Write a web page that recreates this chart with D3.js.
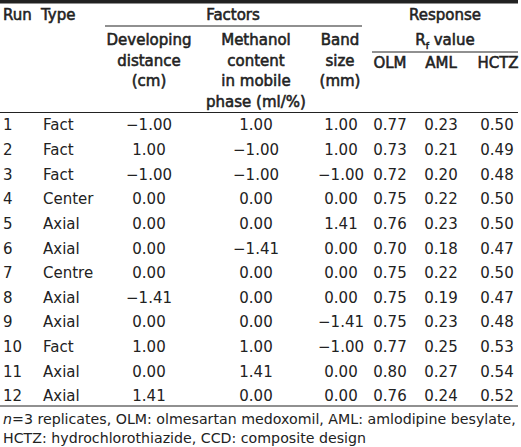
<!DOCTYPE html>
<html>
<head>
<meta charset="utf-8">
<script src="https://cdn.jsdelivr.net/npm/d3@7"></script>
<style>
  html, body { margin: 0; padding: 0; background: #fff; }
  svg { display: block; }
  text { font-family: "DejaVu Sans", Verdana, sans-serif; fill: #222; }
</style>
</head>
<body>
<div id="chart"></div>
<script>
// ---- data ----
const runs = [1, 2, 3, 4, 5, 6, 7, 8, 9, 10, 11, 12];
const types = ["Fact", "Fact", "Fact", "Center", "Axial", "Axial", "Centre", "Axial", "Axial", "Fact", "Axial", "Axial"];
const developingDistance = [-1.00, 1.00, -1.00, 0.00, 0.00, 0.00, 0.00, -1.41, 0.00, 1.00, 0.00, 1.41];
const methanolContent = [1.00, -1.00, -1.00, 0.00, 0.00, -1.41, 0.00, 0.00, 0.00, 1.00, 1.41, 0.00];
const bandSize = [1.00, 1.00, -1.00, 0.00, 1.41, 0.00, 0.00, 0.00, -1.41, -1.00, 0.00, 0.00];
const rfOLM = [0.77, 0.73, 0.72, 0.75, 0.76, 0.70, 0.75, 0.75, 0.75, 0.77, 0.80, 0.76];
const rfAML = [0.23, 0.21, 0.20, 0.22, 0.23, 0.18, 0.22, 0.19, 0.23, 0.25, 0.27, 0.24];
const rfHCTZ = [0.50, 0.49, 0.48, 0.50, 0.50, 0.47, 0.50, 0.47, 0.48, 0.53, 0.54, 0.52];
const footnoteLines = [
  [{t: "n", i: true}, {t: "=3 replicates, OLM: olmesartan medoxomil, AML: amlodipine besylate,"}],
  [{t: "HCTZ: hydrochlorothiazide, CCD: composite design"}]
];

const W = 521, H = 447;
const svg = d3.select("#chart").append("svg").attr("width", W).attr("height", H);

const fmt = d3.format(".2f");
const bodySize = 15, headSize = 15;

// row scale
const y = d3.scalePoint().domain(runs).range([125, 396]);

// columns
const columns = [
  {key: "run", values: runs.map(String), x: 3, anchor: "start"},
  {key: "type", values: types, x: 43, anchor: "start"},
  {key: "dev", values: developingDistance.map(fmt), x: 149, anchor: "middle"},
  {key: "meth", values: methanolContent.map(fmt), x: 256, anchor: "middle"},
  {key: "band", values: bandSize.map(fmt), x: 341, anchor: "middle"},
  {key: "olm", values: rfOLM.map(fmt), x: 390, anchor: "middle"},
  {key: "aml", values: rfAML.map(fmt), x: 441, anchor: "middle"},
  {key: "hctz", values: rfHCTZ.map(fmt), x: 497, anchor: "middle"}
];

// rules
const rule = (x1, x2, yy, w) => svg.append("line")
  .attr("x1", x1).attr("x2", x2).attr("y1", yy).attr("y2", yy)
  .attr("stroke", "#222").attr("stroke-width", w);
rule(0, 518, 1.8, 3.6);
rule(105, 362, 26, 1.2);
rule(372, 518, 52, 1.2);
rule(0, 518, 112.5, 1.2);
rule(0, 518, 406, 1.2);

// header (regular face, emboldened with a thin stroke)
const head = svg.append("g").attr("font-size", headSize)
  .style("stroke", "#222").style("stroke-width", 0.55).style("paint-order", "stroke");
const headItems = [
  {t: "Run", x: 3, y: 15, a: "start"},
  {t: "Type", x: 41, y: 15, a: "start"},
  {t: "Factors", x: 233, y: 15, a: "middle"},
  {t: "Response", x: 445, y: 15, a: "middle"},
  {t: "Developing", x: 149, y: 40, a: "middle"},
  {t: "distance", x: 149, y: 61, a: "middle"},
  {t: "(cm)", x: 149, y: 81, a: "middle"},
  {t: "Methanol", x: 256, y: 40, a: "middle"},
  {t: "content", x: 256, y: 61, a: "middle"},
  {t: "in mobile", x: 256, y: 81, a: "middle"},
  {t: "phase (ml/%)", x: 256, y: 102, a: "middle"},
  {t: "Band", x: 340, y: 40, a: "middle"},
  {t: "size", x: 340, y: 61, a: "middle"},
  {t: "(mm)", x: 340, y: 81, a: "middle"},
  {t: "OLM", x: 390, y: 63, a: "middle"},
  {t: "AML", x: 441, y: 63, a: "middle"},
  {t: "HCTZ", x: 498, y: 63, a: "middle"}
];
head.selectAll("text.h").data(headItems).join("text")
  .attr("class", "h")
  .attr("x", d => d.x).attr("y", d => d.y).attr("dy", "0.36em")
  .attr("text-anchor", d => d.a).text(d => d.t);
const rf = head.append("text").attr("x", 445).attr("y", 40).attr("dy", "0.36em").attr("text-anchor", "middle");
rf.append("tspan").text("R");
rf.append("tspan").attr("font-size", 9).attr("dy", "0.35em").text("f");
rf.append("tspan").attr("dy", "-0.25em").text(" value");

// body
const body = svg.append("g").attr("font-size", bodySize);
columns.forEach(col => {
  body.append("g").selectAll("text").data(col.values).join("text")
    .attr("x", col.x)
    .attr("y", (d, i) => y(runs[i]))
    .attr("dy", "0.36em")
    .attr("text-anchor", col.anchor)
    .text(d => d);
});

// footnote
const foot = svg.append("g").attr("font-size", 14.2);
footnoteLines.forEach((line, li) => {
  const t = foot.append("text").attr("x", 3).attr("y", 419 + li * 18.5).attr("dy", "0.36em");
  line.forEach(seg => t.append("tspan").attr("font-style", seg.i ? "italic" : null).text(seg.t));
});
</script>
</body>
</html>
